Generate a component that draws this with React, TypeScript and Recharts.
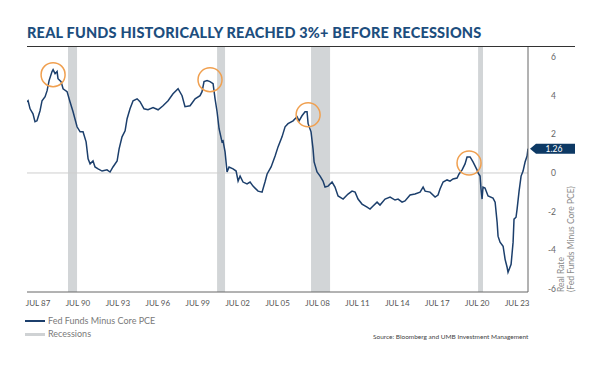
import React from "react"
import {
  ComposedChart,
  Line,
  XAxis,
  YAxis,
  ReferenceArea,
  ReferenceLine,
  ReferenceDot,
} from "recharts"

// fed funds minus core PCE (decimal years)
const years = [
  1986.67, 1986.75, 1986.9, 1987.12, 1987.27, 1987.42, 1987.65, 1987.8, 1988.03, 1988.18,
  1988.33, 1988.55, 1988.63, 1988.78, 1988.93, 1989.0, 1989.23, 1989.38, 1989.68, 1989.9,
  1990.13, 1990.43, 1990.66, 1990.88, 1991.11, 1991.26, 1991.41, 1991.63, 1991.78, 1992.01,
  1992.31, 1992.68, 1992.91, 1993.13, 1993.44, 1993.59, 1993.81, 1994.04, 1994.19, 1994.41,
  1994.64, 1994.94, 1995.16, 1995.46, 1995.76, 1996.14, 1996.52, 1996.89, 1997.27, 1997.64,
  1998.02, 1998.32, 1998.54, 1998.92, 1999.3, 1999.67, 1999.82, 1999.97, 2000.2, 2000.42,
  2000.65, 2000.8, 2000.95, 2001.1, 2001.32, 2001.4, 2001.55, 2001.7, 2001.85, 2002.15,
  2002.38, 2002.53, 2002.68, 2002.9, 2003.2, 2003.43, 2003.65, 2004.03, 2004.33, 2004.55,
  2004.71, 2005.01, 2005.31, 2005.53, 2005.83, 2006.06, 2006.28, 2006.66, 2006.96, 2007.11,
  2007.33, 2007.56, 2007.71, 2007.79, 2008.01, 2008.16, 2008.24, 2008.46, 2008.69, 2008.91,
  2009.06, 2009.29, 2009.59, 2009.81, 2010.04, 2010.42, 2010.79, 2011.09, 2011.32, 2011.54,
  2011.84, 2012.22, 2012.44, 2012.67, 2012.97, 2013.19, 2013.57, 2013.95, 2014.32, 2014.55,
  2014.85, 2015.07, 2015.45, 2015.82, 2016.2, 2016.43, 2016.58, 2016.95, 2017.33, 2017.55,
  2017.7, 2017.93, 2018.23, 2018.45, 2018.68, 2018.98, 2019.13, 2019.36, 2019.58, 2019.73,
  2019.96, 2020.18, 2020.48, 2020.56, 2020.71, 2020.78, 2020.86, 2020.93, 2021.08, 2021.31,
  2021.68, 2021.84, 2021.99, 2022.06, 2022.21, 2022.44, 2022.59, 2022.74, 2022.81, 2023.04,
  2023.19, 2023.26, 2023.41, 2023.49, 2023.64, 2023.79, 2023.94, 2024.09, 2024.24, 2024.31,
]
const realRate = [
  3.69, 3.74, 3.32, 3.06, 2.65, 2.7, 3.22, 3.74, 3.95, 4.26,
  4.78, 5.25, 5.35, 5.14, 5.25, 4.88, 4.73, 4.36, 4.21, 3.69,
  3.17, 2.39, 2.13, 2.13, 1.61, 0.73, 0.47, 0.62, 0.31, 0.21,
  0.1, 0.16, 0.05, 0.31, 0.62, 1.25, 1.87, 2.18, 2.81, 3.32,
  3.74, 3.84, 3.69, 3.32, 3.27, 3.38, 3.27, 3.48, 3.74, 4.1,
  4.36, 4.0, 3.43, 3.48, 3.84, 4.0, 4.21, 4.73, 4.78, 4.73,
  4.62, 3.84, 3.17, 2.29, 1.61, 1.66, 1.09, 0.05, 0.31, 0.21,
  0.1, -0.42, -0.16, -0.47, -0.57, -0.47, -0.68, -0.94, -0.99, -0.47,
  -0.05, 0.31, 0.88, 1.35, 1.87, 2.39, 2.55, 2.7, 2.91, 2.7,
  2.96, 3.17, 3.17, 2.55, 2.13, 1.25, 0.57, 0.05, -0.16, -0.42,
  -0.73, -0.68, -0.47, -0.73, -1.19, -1.35, -1.09, -0.94, -0.99, -1.35,
  -1.61, -1.77, -1.87, -1.71, -1.51, -1.66, -1.35, -1.25, -1.4, -1.35,
  -1.51, -1.45, -1.14, -1.09, -0.99, -0.73, -0.94, -0.99, -1.25, -1.14,
  -0.83, -0.47, -0.36, -0.42, -0.31, -0.26, -0.05, 0.16, 0.47, 0.83,
  0.83, 0.57, 0.16, 0.0, -0.16, -0.83, -1.35, -0.73, -0.78, -1.19,
  -1.3, -1.51, -2.55, -3.27, -3.58, -3.79, -4.47, -4.88, -5.14, -4.73,
  -3.58, -2.39, -2.29, -1.87, -0.94, -0.16, 0.1, 0.57, 0.88, 1.26,
]

const recessionStart = [1989.75, 2000.95, 2008.01, 2020.56]
const recessionEnd = [1990.43, 2001.55, 2009.44, 2020.93]

// orange circles round the pre-recession peaks
const peakYears = [1988.63, 2000.42, 2007.79, 2019.88]
const peakRates = [5.09, 4.83, 3.01, 0.52]

const tickYears = [
  1987.5, 1990.5, 1993.5, 1996.5, 1999.5, 2002.5, 2005.5, 2008.5, 2011.5, 2014.5, 2017.5,
  2020.5, 2023.5,
]
const tickLabels = [
  "JUL 87", "JUL 90", "JUL 93", "JUL 96", "JUL 99", "JUL 02", "JUL 05", "JUL 08", "JUL 11",
  "JUL 14", "JUL 17", "JUL 20", "JUL 23",
]
const rateTicks = [-6, -4, -2, 0, 2, 4, 6]

const lastYear = years[years.length - 1]
const lastRate = realRate[realRate.length - 1]

const data = years.map((t, i) => ({ t, rate: realRate[i] }))

const NAVY = "#1c3f6c"
const FONT = "Lato, 'Open Sans', sans-serif"

const RightTick = (props: any) => {
  const { x, y, payload } = props
  return (
    <text x={x + 20} y={y} dy={3} textAnchor="end" fontSize={8.5} fill="#666" fontFamily={FONT}>
      {payload.value}
    </text>
  )
}

const LastValueFlag = (props: any) => {
  const { cx, cy } = props
  const x0 = cx + 2
  return (
    <g>
      <polygon
        points={`${x0},${cy} ${x0 + 6},${cy - 5} ${x0 + 45},${cy - 5} ${x0 + 45},${cy + 5} ${x0 + 6},${cy + 5}`}
        fill="#0d3964"
      />
      <text x={x0 + 24} y={cy + 3.2} textAnchor="middle" fontSize={8.5} fill="#fff" fontFamily={FONT}>
        {lastRate.toFixed(2)}
      </text>
    </g>
  )
}

const AxisTitle = () => (
  <g fontFamily={FONT} fontSize={8.5} fill="#8a8a8a">
    <text x={564} y={292} transform="rotate(-90 564 292)" textAnchor="start">
      Real Rate
    </text>
    <text x={574} y={292} transform="rotate(-90 574 292)" textAnchor="start">
      (Fed Funds Minus Core PCE)
    </text>
  </g>
)

export default function App() {
  return (
    <div style={{ position: "absolute", left: 0, top: 0, width: 600, height: 367, background: "#fff", fontFamily: FONT }}>
      <div
        style={{
          position: "absolute",
          left: 27,
          top: 24,
          fontSize: 14.5,
          fontWeight: 900,
          color: "#1d4e7e",
          whiteSpace: "nowrap",
          letterSpacing: 0.2,
        }}
      >
        REAL FUNDS HISTORICALLY REACHED 3%+ BEFORE RECESSIONS
      </div>
      <div style={{ position: "absolute", left: 27, top: 46, width: 548, height: 0, borderTop: "1.5px solid #333" }} />

      <ComposedChart
        width={600}
        height={367}
        data={data}
        margin={{ top: 47, right: 27, bottom: 45, left: 27 }}
      >
        <XAxis
          dataKey="t"
          type="number"
          height={30}
          domain={[1986.67, 2024.31]}
          ticks={tickYears}
          tickFormatter={(v: number) => tickLabels[tickYears.indexOf(v)]}
          allowDataOverflow
          tickLine={false}
          axisLine={{ stroke: "#666", strokeWidth: 1 }}
          tick={{ fontSize: 8, fill: "#555", fontFamily: FONT }}
          interval={0}
        />
        <YAxis
          yAxisId="l"
          orientation="left"
          width={0}
          domain={[-6.16, 6.52]}
          tick={false}
          tickLine={false}
          axisLine={{ stroke: "#666", strokeWidth: 1 }}
        />
        <YAxis
          yAxisId="r"
          orientation="right"
          width={45}
          domain={[-6.16, 6.52]}
          ticks={rateTicks}
          allowDataOverflow
          tickLine={false}
          axisLine={{ stroke: "#666", strokeWidth: 1 }}
          tick={<RightTick />}
          label={{ content: () => <AxisTitle /> }}
        />
        {recessionStart.map((s, i) => (
          <ReferenceArea
            key={`rec-${i}`}
            yAxisId="r"
            x1={s}
            x2={recessionEnd[i]}
            fill="#d2d5d7"
            fillOpacity={1}
            stroke="none"
          />
        ))}
        <ReferenceLine yAxisId="r" y={0} stroke="#cfcfcf" strokeWidth={1} />
        <Line
          yAxisId="r"
          dataKey="rate"
          type="linear"
          stroke={NAVY}
          strokeWidth={1.5}
          dot={false}
          isAnimationActive={false}
        />
        {peakYears.map((py, i) => (
          <ReferenceDot
            key={`peak-${i}`}
            yAxisId="r"
            x={py}
            y={peakRates[i]}
            r={12}
            fill="none"
            stroke="#f0a050"
            strokeWidth={1.5}
          />
        ))}
        <ReferenceDot
          yAxisId="r"
          x={lastYear}
          y={lastRate}
          r={2}
          ifOverflow="visible"
          shape={<LastValueFlag />}
        />
      </ComposedChart>

      <div style={{ position: "absolute", left: 25, top: 320, width: 20, height: 2, background: NAVY }} />
      <div style={{ position: "absolute", left: 48, top: 315, fontSize: 9, color: "#7a7a7a", whiteSpace: "nowrap" }}>
        Fed Funds Minus Core PCE
      </div>
      <div style={{ position: "absolute", left: 25, top: 333, width: 20, height: 3, background: "#cfd2d4" }} />
      <div style={{ position: "absolute", left: 48, top: 328, fontSize: 9, color: "#7a7a7a", whiteSpace: "nowrap" }}>
        Recessions
      </div>
      <div style={{ position: "absolute", left: 373, top: 333, fontSize: 6.5, color: "#444", whiteSpace: "nowrap" }}>
        Source: Bloomberg and UMB Investment Management
      </div>
    </div>
  )
}
